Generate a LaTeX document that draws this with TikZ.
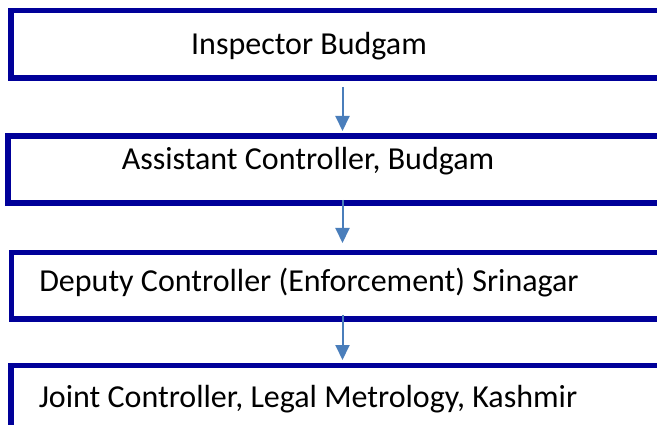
\documentclass[tikz,border=0pt]{standalone}
\usepackage{fontspec}
\setmainfont{Carlito}
\usepackage{xcolor}
\usepackage{tikz}
\usetikzlibrary{arrows.meta}

\definecolor{boxblue}{RGB}{0,0,153}
\definecolor{arrowblue}{RGB}{74,126,187}

\tikzset{
	box/.style={draw=boxblue, line width=5.5pt, anchor=north west, minimum width=700pt, inner sep=0pt, outer sep=0pt},
	boxtext/.style={anchor=base, inner sep=0pt, font=\fontsize{32}{38}\selectfont},
	flow/.style={arrowblue, line width=2pt, -{Triangle[length=15pt,width=14pt]}}
}

\begin{document}
\begin{tikzpicture}[x=1pt,y=-1pt]
	\useasboundingbox (0,0) rectangle (657,425);
	
	\node[box, minimum height=67.5pt] (b1) at (11,10.5) {};
	\node[box, minimum height=67pt] (b2) at (8,136) {};
	\node[box, minimum height=66.5pt] (b3) at (11.5,252.5) {};
	\node[box, minimum height=100pt] (b4) at (11,365.5) {};
	
	\node[boxtext] (t1) at (309,55) {Inspector Budgam};
	\node[boxtext] (t2) at (308,170) {Assistant Controller, Budgam};
	\node[boxtext] (t3) at (309,291) {Deputy Controller (Enforcement) Srinagar};
	\node[boxtext] (t4) at (308,407) {Joint Controller, Legal Metrology, Kashmir};
	
	\coordinate (ax) at (342.5,0);
	\draw[flow] ([yshift=-9pt]b1.south -| ax) -- ([yshift=5pt]b2.north -| ax);
	\draw[flow] ([yshift=3pt]b2.south -| ax) -- ([yshift=9.5pt]b3.north -| ax);
	\draw[flow] ([yshift=4pt]b3.south -| ax) -- ([yshift=5.5pt]b4.north -| ax);
\end{tikzpicture}
\end{document}
